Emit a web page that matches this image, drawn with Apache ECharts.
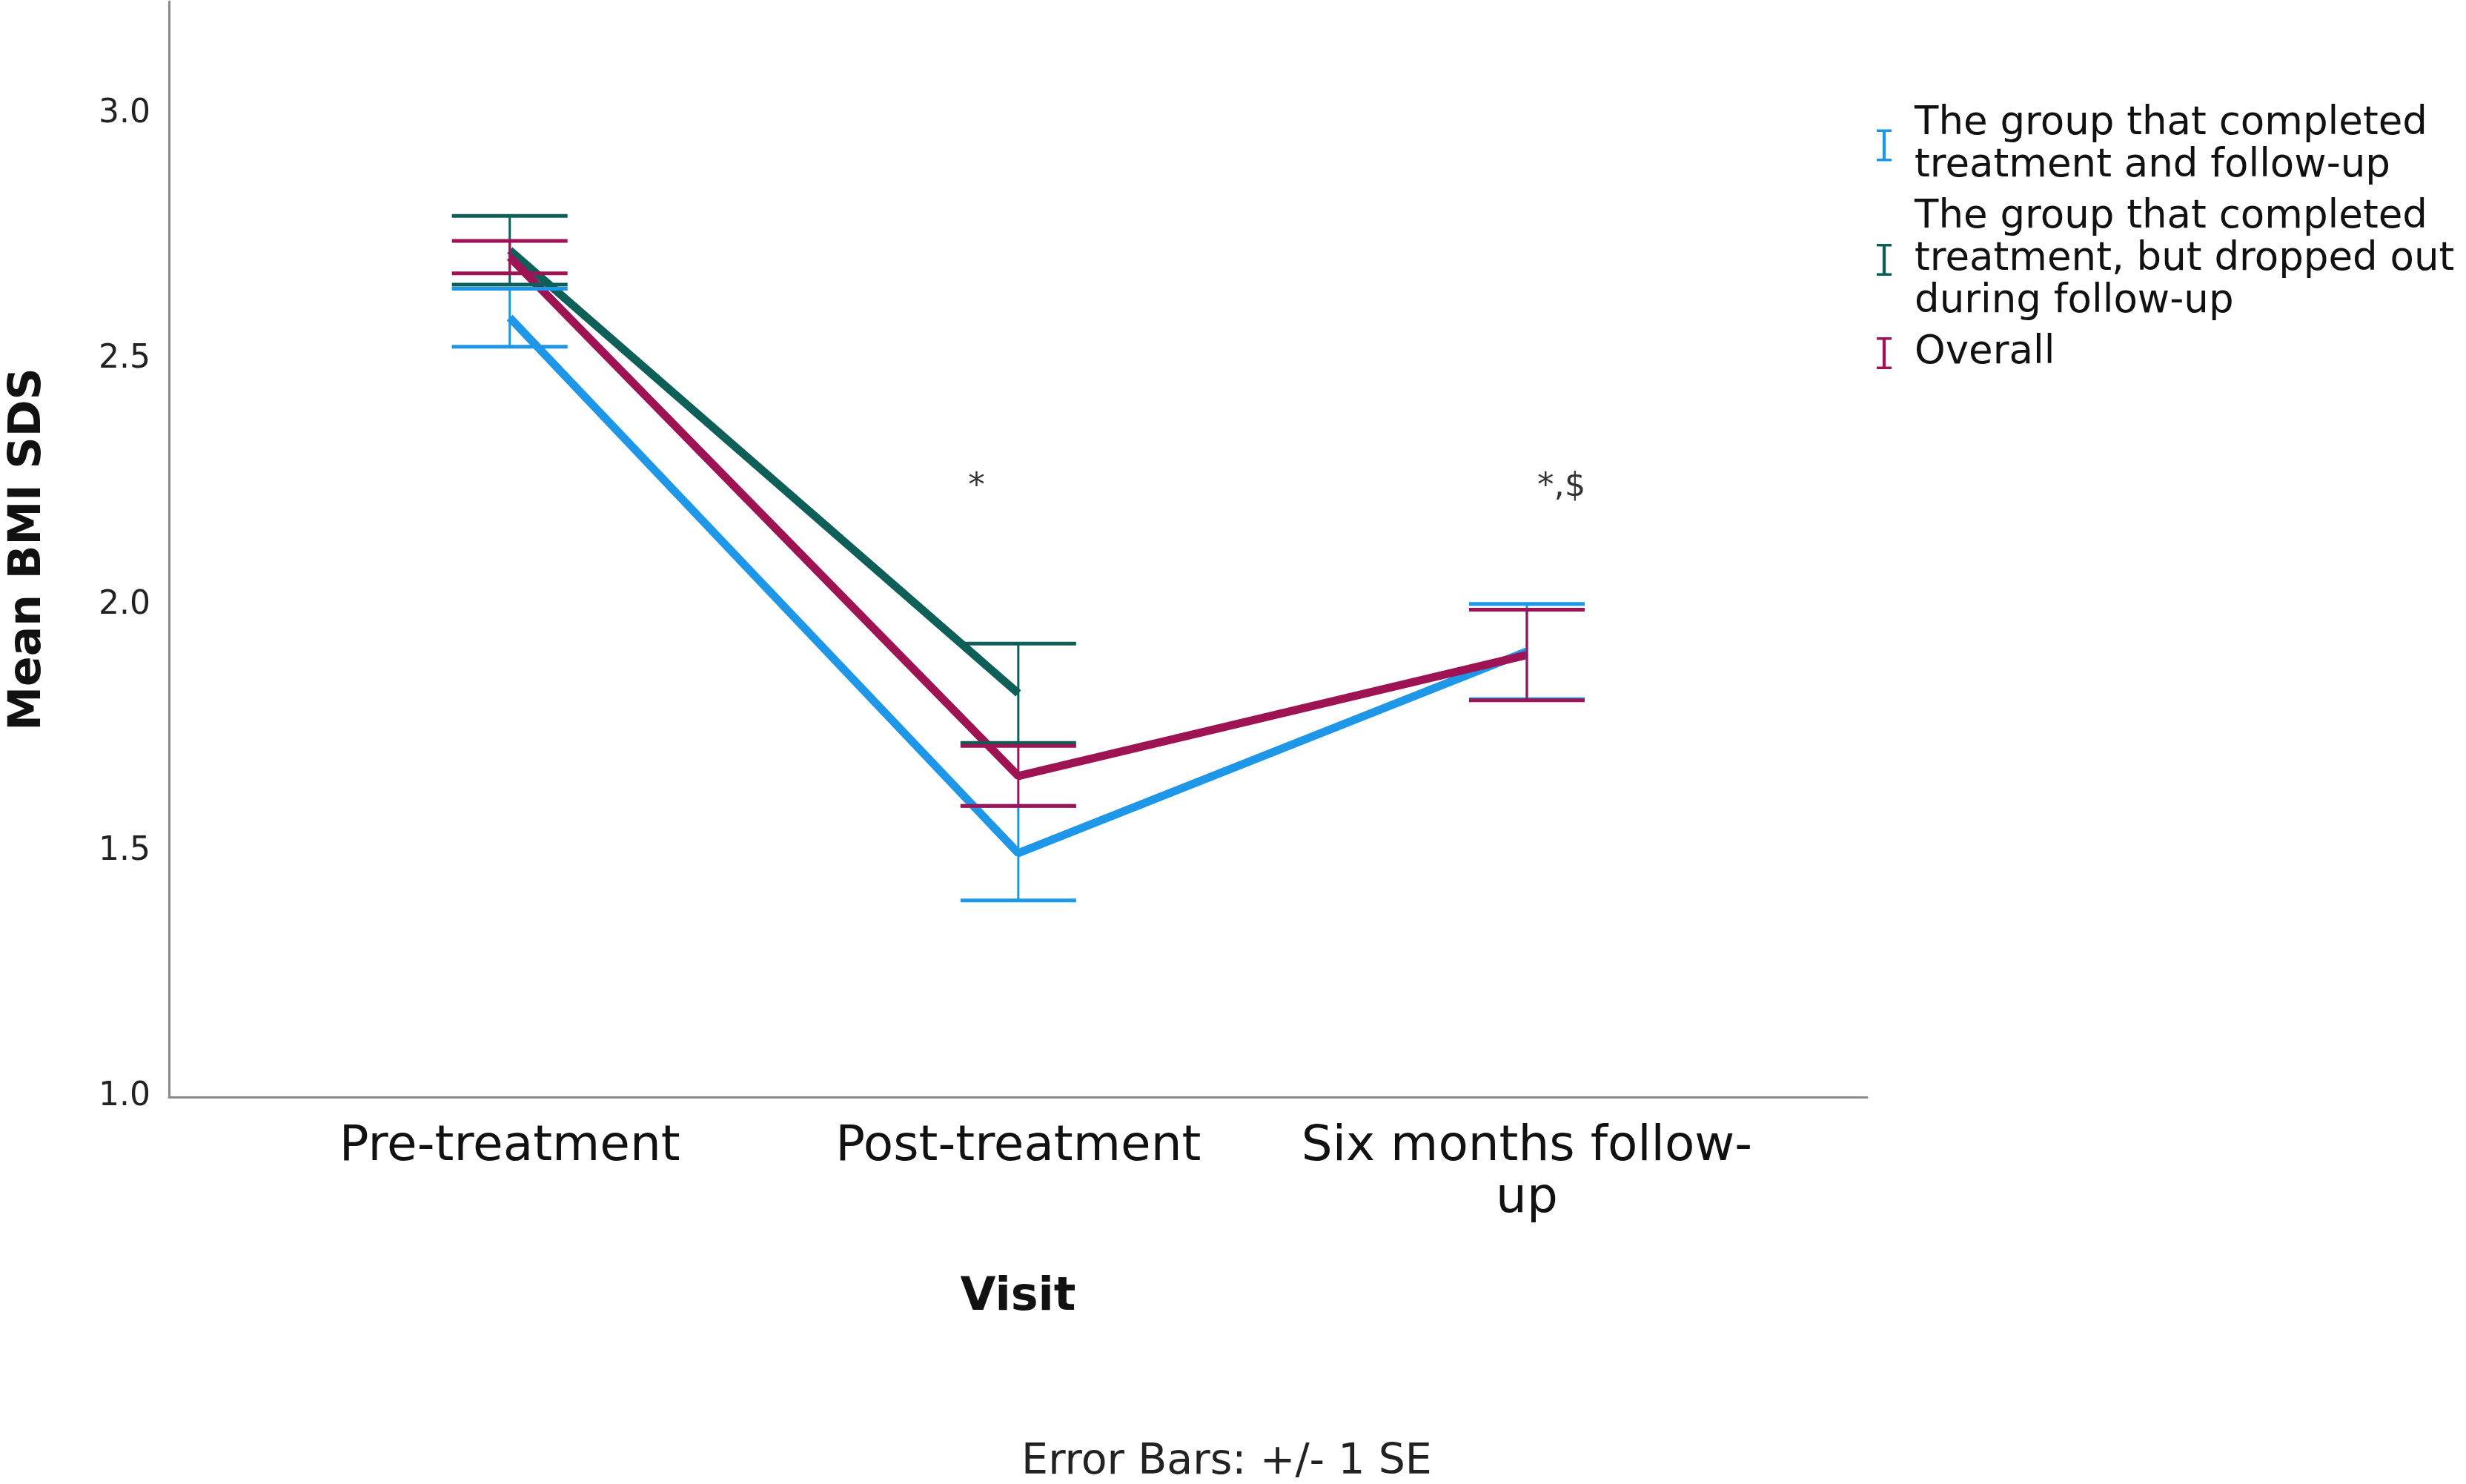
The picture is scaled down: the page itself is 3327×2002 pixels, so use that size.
<!DOCTYPE html>
<html>
<head>
<meta charset="utf-8">
<script src="https://cdn.jsdelivr.net/npm/echarts@6/dist/echarts.min.js"></script>
<style>
html,body{margin:0;padding:0;background:#fff;}
#chart{width:3327px;height:2002px;}
</style>
</head>
<body>
<div id="chart"></div>
<script>
// ---- data ----
const categories = ['Pre-treatment', 'Post-treatment', 'Six months follow-up'];
const categoryLabels = ['Pre-treatment', 'Post-treatment', 'Six months follow-\nup'];
const seriesNames = [
  'The group that completed treatment and follow-up',
  'The group that completed treatment, but dropped out during follow-up',
  'Overall'
];
const legendLabels = [
  'The group that completed\ntreatment and follow-up',
  'The group that completed\ntreatment, but dropped out\nduring follow-up',
  'Overall'
];
const completedMean = [2.585, 1.496, 1.906];
const completedSE   = [0.059, 0.096, 0.097];
const dropoutMean   = [2.722, 1.821, null];
const dropoutSE     = [0.070, 0.101, null];
const overallMean   = [2.708, 1.653, 1.899];
const overallSE     = [0.033, 0.061, 0.092];
const yTicks = [1.0, 1.5, 2.0, 2.5, 3.0];
const annotations = [
  { text: '*',   x: 0.918, y: 2.24 },
  { text: '*,$', x: 2.068, y: 2.24 }
];

// ---- style ----
const colors = ['#1f97e8', '#0e5f57', '#9e1353'];
const FONT = 'DejaVu Sans';
const iBeam = 'path://M0,0h14v2.5h-5.5v25h5.5v2.5h-14v-2.5h5.5v-25h-5.5z';

const means = [completedMean, dropoutMean, overallMean];
const ses = [completedSE, dropoutSE, overallSE];

function pointData(m) {
  const out = [];
  m.forEach((v, i) => { if (v != null) out.push([i, v]); });
  return out;
}
function errData(m, s) {
  const out = [];
  m.forEach((v, i) => { if (v != null) out.push([i, v, s[i]]); });
  return out;
}

const series = [];
// error bar series (first, so the legend takes their icon)
seriesNames.forEach((name, k) => {
  series.push({
    name: name,
    type: 'custom',
    z: 5,
    silent: true,
    data: errData(means[k], ses[k]),
    encode: { x: 0, y: 1 },
    itemStyle: { color: colors[k] },
    renderItem: function (params, api) {
      const x = api.value(0), m = api.value(1), s = api.value(2);
      const top = api.coord([x, m + s]);
      const bot = api.coord([x, m - s]);
      const hw = 78;
      const c = colors[k];
      return {
        type: 'group',
        children: [
          { type: 'line', shape: { x1: top[0], y1: top[1], x2: bot[0], y2: bot[1] }, style: { stroke: c, lineWidth: 3 } },
          { type: 'line', shape: { x1: top[0] - hw, y1: top[1], x2: top[0] + hw, y2: top[1] }, style: { stroke: c, lineWidth: 5 } },
          { type: 'line', shape: { x1: bot[0] - hw, y1: bot[1], x2: bot[0] + hw, y2: bot[1] }, style: { stroke: c, lineWidth: 5 } }
        ]
      };
    }
  });
});
// mean lines
seriesNames.forEach((name, k) => {
  series.push({
    name: name,
    type: 'line',
    z: 3,
    silent: true,
    showSymbol: false,
    symbol: 'none',
    data: pointData(means[k]),
    lineStyle: { color: colors[k], width: 11 },
    itemStyle: { color: colors[k] }
  });
});
// significance annotations
series.push({
  name: 'annotations',
  type: 'scatter',
  silent: true,
  symbolSize: 1,
  itemStyle: { color: 'transparent' },
  data: annotations.map(a => ({ value: [a.x, a.y], label: { formatter: a.text } })),
  label: { show: true, position: 'inside', fontFamily: FONT, fontSize: 45, color: '#000', textBorderWidth: 0 }
});

const chart = echarts.init(document.getElementById('chart'), null, { renderer: 'canvas' });
chart.setOption({
  animation: false,
  backgroundColor: '#ffffff',
  grid: { left: 227, right: 808, top: 2, bottom: 522, containLabel: false },
  xAxis: {
    type: 'value',
    min: -0.67,
    max: 2.669,
    name: 'Visit',
    nameLocation: 'middle',
    nameGap: 240,
    nameTextStyle: { fontFamily: FONT, fontSize: 62, fontWeight: 'bold', color: '#111' },
    axisLine: { show: true, onZero: false, lineStyle: { color: '#8a8a8a', width: 3 } },
    axisTick: { show: false },
    splitLine: { show: false },
    axisLabel: {
      customValues: [0, 1, 2],
      formatter: v => categoryLabels[Math.round(v)],
      fontFamily: FONT, fontSize: 66, lineHeight: 70, color: '#111', margin: 33
    }
  },
  yAxis: {
    type: 'value',
    min: 1.0,
    max: 3.228,
    name: 'Mean BMI SDS',
    nameLocation: 'middle',
    nameGap: 160,
    nameRotate: 90,
    nameTextStyle: { fontFamily: FONT, fontSize: 60, fontWeight: 'bold', color: '#111' },
    axisLine: { show: true, onZero: false, lineStyle: { color: '#8a8a8a', width: 3 } },
    axisTick: { show: false },
    splitLine: { show: false },
    axisLabel: {
      customValues: yTicks,
      formatter: v => v.toFixed(1),
      fontFamily: FONT, fontSize: 44, color: '#222', margin: 25
    }
  },
  legend: {
    orient: 'vertical',
    left: 2532,
    top: 139,
    padding: 0,
    itemGap: 12,
    itemWidth: 28,
    itemHeight: 43,
    selectedMode: false,
    data: seriesNames.map((n, i) => ({ name: n, icon: iBeam, itemStyle: { color: colors[i] } })),
    formatter: name => legendLabels[seriesNames.indexOf(name)],
    textStyle: { fontFamily: FONT, fontSize: 53, lineHeight: 57, color: '#111', padding: [0, 0, 0, 22] }
  },
  graphic: [{
    type: 'text',
    x: 1655,
    y: 1973,
    style: {
      text: 'Error Bars: +/- 1 SE',
      fontFamily: FONT, fontSize: 57, fill: '#222',
      align: 'center', verticalAlign: 'middle'
    }
  }],
  series: series
});
</script>
</body>
</html>
